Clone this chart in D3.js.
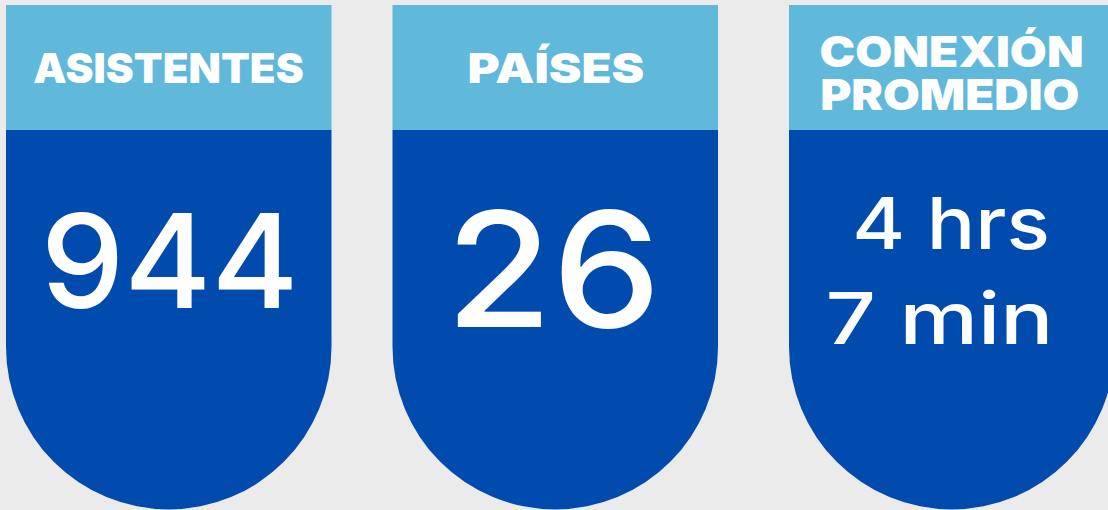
<!DOCTYPE html>
<html>
<head>
<meta charset="utf-8">
<script src="https://cdn.jsdelivr.net/npm/d3@7"></script>
<style>
  html, body { margin: 0; padding: 0; background: #ebebeb; }
  svg { display: block; }
</style>
</head>
<body>
<div id="chart"></div>
<script>
// ---- data ----
const categories = ["ASISTENTES", "PAÍSES", "CONEXIÓN PROMEDIO"];
const headerLines = [["ASISTENTES"], ["PAÍSES"], ["CONEXIÓN", "PROMEDIO"]];
const valueLines = [["944"], ["26"], ["4 hrs", "7 min"]];

// ---- layout / style ----
const W = 1108, H = 510;
const cardLeft = d3.scaleOrdinal().domain(d3.range(3)).range([6, 392.5, 789]);
const cardW = 325.5;
const y = d3.scaleLinear().domain([0, H]).range([0, H]);
const headerTop = 5, headerBottom = 130, cardBottom = 509.5;
const colHeader = "#60b8da", colBody = "#004bad", colBg = "#ebebeb";

// per-card text geometry: baselines, cap heights, ink widths, center offsets
const headerGeom = [
  [{ base: 83, cap: 30, w: 270, dx: -0.5 }],
  [{ base: 83, cap: 30, w: 175, dx: 1 }],
  [{ base: 67, cap: 31, w: 261, dx: -0.5 }, { base: 110, cap: 31, w: 257, dx: -2 }]
];
const valueGeom = [
  [{ base: 308, cap: 98, w: 244, dx: 1 }],
  [{ base: 327, cap: 120, w: 195, dx: 0 }],
  [{ base: 249, cap: 54, w: 190, dx: 0 }, { base: 344, cap: 54, w: 219, dx: -13 }]
];

const svg = d3.select("#chart").append("svg")
  .attr("width", W).attr("height", H)
  .style("background", colBg);

const ctx = document.createElement("canvas").getContext("2d");
function fitText(g, str, weight, family, ref, cx, g2) {
  ctx.font = `${weight} 100px ${family}`;
  const capA = ctx.measureText(ref).actualBoundingBoxAscent;
  const fs = g2.cap / capA * 100;
  ctx.font = `${weight} ${fs}px ${family}`;
  const m = ctx.measureText(str);
  const inkW = m.actualBoundingBoxLeft + m.actualBoundingBoxRight;
  const inkC = (m.actualBoundingBoxRight - m.actualBoundingBoxLeft) / 2;
  const sx = g2.w / inkW;
  g.append("text")
    .attr("x", 0).attr("y", 0)
    .attr("transform", `translate(${cx + g2.dx - sx * inkC},${y(g2.base)}) scale(${sx},1)`)
    .attr("font-family", family)
    .attr("font-weight", weight)
    .attr("font-size", fs)
    .attr("fill", "#ffffff")
    .text(str);
}

const cards = svg.selectAll("g.card").data(categories).join("g").attr("class", "card");

cards.each(function (d, i) {
  const g = d3.select(this);
  const x0 = cardLeft(i), r = cardW / 2, cx = x0 + r;
  const cy = y(cardBottom) - r;
  // body with semicircular bottom
  const p = d3.path();
  p.moveTo(x0, y(headerBottom));
  p.lineTo(x0 + cardW, y(headerBottom));
  p.lineTo(x0 + cardW, cy);
  p.arc(cx, cy, r, 0, Math.PI, false);
  p.closePath();
  g.append("path").attr("d", p.toString()).attr("fill", colBody);
  // header
  g.append("rect")
    .attr("x", x0).attr("y", y(headerTop))
    .attr("width", cardW).attr("height", y(headerBottom) - y(headerTop))
    .attr("fill", colHeader);
  headerLines[i].forEach((s, k) =>
    fitText(g, s, 900, "Inter", "H", cx, headerGeom[i][k]));
  valueLines[i].forEach((s, k) =>
    fitText(g, s, 500, "Inter", "0123456789", cx, valueGeom[i][k]));
});
</script>
</body>
</html>
